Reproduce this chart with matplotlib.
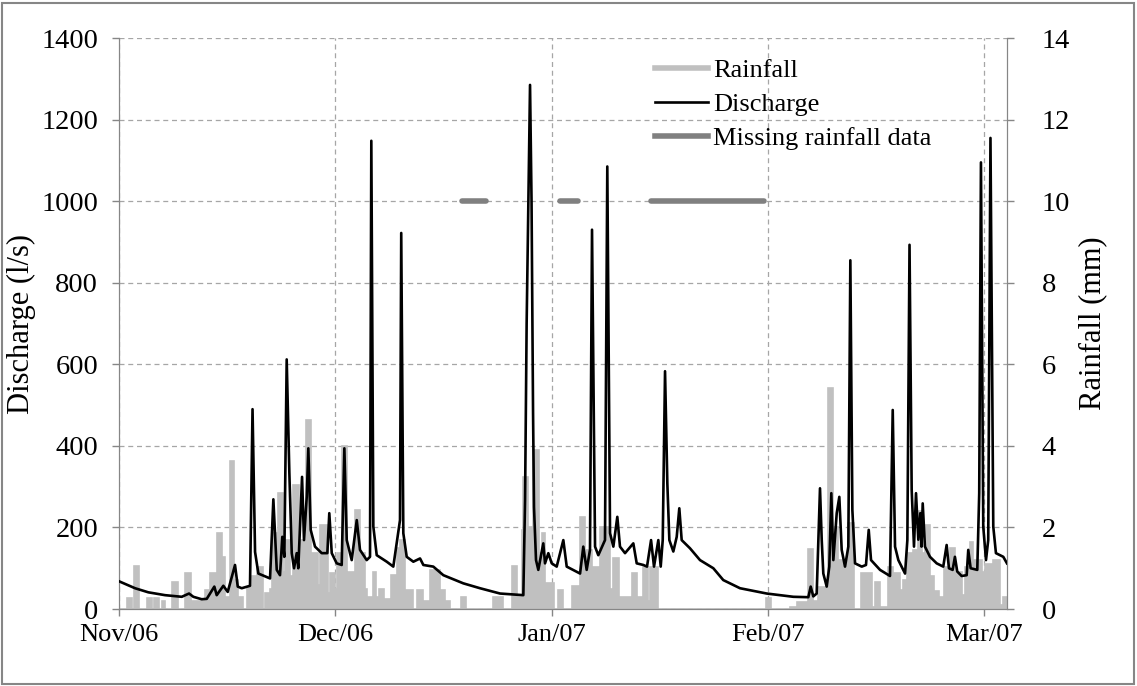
import matplotlib
matplotlib.use("Agg")
import matplotlib.pyplot as plt
from matplotlib.lines import Line2D
from matplotlib.patches import Rectangle

# ---------------- data ----------------
month_labels = ["Nov/06", "Dec/06", "Jan/07", "Feb/07", "Mar/07"]
month_pos = [0, 30, 60, 90, 120]  # days since 1 Nov 2006 (axis unit)

discharge_day = [0.0, 2.22, 4.06, 6.38, 8.70, 9.71, 10.31, 11.47, 12.17, 13.22, 13.55, 14.47,
                 15.08, 16.09, 16.47, 17.02, 18.17, 18.52, 18.87, 19.33, 20.26, 20.95, 21.41,
                 21.88, 22.33, 22.65, 22.93, 23.26, 23.63, 23.96, 24.28, 24.65, 24.87, 25.39,
                 25.66, 26.04, 26.26, 26.59, 27.19, 28.12, 28.90, 29.17, 29.51, 30.20, 30.89,
                 31.26, 31.59, 32.28, 32.98, 33.43, 34.36, 34.82, 35.00, 35.28, 35.75, 37.14,
                 38.05, 38.52, 38.98, 39.15, 39.44, 39.91, 40.83, 41.76, 42.22, 43.60, 44.99,
                 47.76, 50.08, 52.86, 56.09, 56.33, 56.55, 57.02, 57.23, 57.44, 57.57, 57.85,
                 58.17, 58.86, 59.10, 59.56, 60.03, 60.72, 61.64, 62.11, 63.50, 63.96, 64.41,
                 64.88, 65.34, 65.62, 66.04, 66.49, 67.42, 67.74, 68.12, 68.58, 69.13, 69.50,
                 70.20, 71.35, 71.82, 72.74, 73.25, 73.81, 74.22, 74.82, 75.15, 75.43, 75.75,
                 76.07, 76.35, 76.90, 77.37, 77.73, 78.06, 79.21, 80.60, 82.45, 83.83, 86.15,
                 89.86, 93.55, 95.63, 95.96, 96.32, 96.79, 97.25, 97.49, 97.71, 98.18, 98.54,
                 98.82, 99.10, 99.57, 99.93, 100.26, 100.72, 101.18, 101.46, 101.74, 102.11,
                 103.04, 103.63, 104.01, 104.33, 105.58, 106.96, 107.34, 107.66, 108.12,
                 109.05, 109.37, 109.67, 109.97, 110.29, 110.57, 110.89, 111.17, 111.33,
                 111.50, 111.81, 112.51, 113.44, 114.35, 114.82, 115.14, 115.65, 115.97,
                 116.29, 116.90, 117.60, 117.82, 118.15, 119.07, 119.34, 119.58, 119.90,
                 120.28, 120.59, 120.90, 121.29, 121.66, 122.68, 123.19]
discharge_ls = [68, 51, 41, 34, 30, 38, 30, 24, 25, 55, 34, 57,
                42, 108, 55, 51, 57, 490, 140, 87, 80, 75, 269,
                96, 83, 177, 128, 612, 333, 137, 100, 137, 100, 324,
                169, 275, 394, 194, 153, 137, 137, 235, 137, 112, 108,
                394, 169, 120, 218, 145, 120, 128, 1148, 202, 132, 116,
                104, 161, 218, 922, 186, 128, 116, 124, 108, 104, 83,
                63, 51, 38, 34, 267, 700, 1285, 1000, 480, 250, 120,
                96, 161, 112, 137, 112, 104, 169, 104, 91, 87, 153,
                96, 145, 930, 153, 132, 169, 1085, 186, 153, 226, 153,
                137, 161, 112, 108, 104, 169, 104, 169, 104, 169, 583,
                308, 169, 141, 177, 247, 169, 149, 120, 100, 71, 51,
                38, 30, 29, 55, 31, 38, 296, 169, 87, 55, 104,
                284, 120, 235, 275, 145, 104, 153, 855, 243, 112,
                104, 108, 194, 120, 96, 81, 488, 153, 120,
                87, 169, 893, 292, 153, 284, 170, 235, 153,
                259, 153, 128, 112, 104, 157, 100, 96, 128,
                92, 81, 83, 145, 100, 96, 284, 1095, 202,
                120, 169, 1155, 202, 137, 128, 112]

# rainfall as a step series: value rain_mm[i] holds from rain_edges[i] to rain_edges[i+1]
rain_edges = [0.0, 1.1, 1.8, 2.1, 2.8, 3.9, 4.6, 4.9, 5.6, 5.9, 6.4, 7.4, 8.2, 9.2, 10.0,
              10.1, 11.9, 12.6, 13.6, 14.3, 14.7, 15.4, 16.0, 16.55, 17.25, 17.7, 18.4,
              19.1, 20.0, 20.3, 20.9, 21.2, 21.9, 22.1, 22.8, 23.0, 23.7, 24.2, 24.9,
              25.9, 26.6, 27.6, 27.9, 29.0, 29.2, 30.0, 30.2, 30.9, 31.6, 31.8, 32.7,
              33.4, 34.1, 34.4, 35.3, 35.7, 36.0, 36.7, 37.6, 37.8, 38.5, 39.0, 39.7,
              40.8, 41.3, 42.2, 43.1, 44.5, 45.2, 45.9, 47.5, 48.2, 51.9, 53.3, 54.5,
              55.2, 55.9, 56.1, 56.8, 57.5, 58.2, 58.7, 59.1, 60.3, 60.9, 61.6, 62.8,
              64.0, 64.7, 65.6, 65.8, 66.7, 68.1, 68.6, 69.3, 71.1, 71.8, 72.7, 73.4,
              73.7, 74.8, 89.8, 90.4, 93.1, 94.0, 95.4, 95.6, 96.3, 97.0, 98.4, 99.1,
              99.8, 101.2, 101.9, 103.0, 104.4, 104.9, 105.6, 106.7, 107.4, 108.4,
              108.8, 109.3, 110.2, 110.9, 111.4, 111.8, 112.5, 113.0, 113.7, 114.4,
              115.3, 116.0, 116.9, 117.4, 118.1, 118.5, 119.7, 120.1, 121.3, 122.2,
              122.7, 123.2]
rain_mm = [0, 0.27, 0, 1.06, 0, 0.27, 0, 0.27, 0, 0.2, 0, 0.66, 0, 0.88, 0,
           0.2, 0.46, 0.88, 1.86, 1.28, 0.3, 3.64, 0.7, 0.3, 0, 0.55, 0.8,
           1.04, 0, 0.4, 0.5, 1.86, 0.6, 2.84, 0.9, 1.7, 0.8, 3.04, 1.7,
           4.63, 1.37, 0.6, 2.06, 0.4, 0.88, 0.5, 1.37, 4.0, 0.6, 0.9, 2.43,
           1.37, 0.5, 0.3, 0.9, 0.3, 0.5, 0.25, 0.2, 0.83, 1.5, 1.7, 0.46,
           0, 0.46, 0.2, 0.96, 0.46, 0.2, 0, 0.3, 0, 0.3, 0, 1.06,
           0.3, 1.94, 3.24, 2.0, 3.9, 1.37, 1.86, 0.64, 0, 0.47, 0, 0.56,
           2.26, 1.45, 0.5, 1.04, 2.0, 0.5, 1.25, 0.3, 0.88, 0.3, 1.04, 0.2,
           1.04, 0, 0.27, 0, 0.05, 0.18, 0, 1.47, 0.2, 0.55, 5.42, 2.0,
           1.2, 2.1, 0, 0.88, 0.05, 0.67, 0.05, 1.04, 0.88, 0.46,
           0.7, 1.37, 1.45, 2.4, 1.37, 2.06, 0.8, 0.44, 0.3, 1.04,
           1.5, 0.9, 0.35, 1.04, 1.65, 1.2, 0.9, 1.1, 1.2, 0.1,
           0.3]

missing_start = [47.6, 61.2, 73.8]
missing_end = [50.9, 63.7, 89.5]
missing_level_mm = 10

# ---------------- figure ----------------
plt.rcParams['font.family'] = ['Liberation Serif', 'DejaVu Serif']
FS_XTICK = 19
FS_YTICK = 20.5
FS_LAB = 22
FS_LEG = 19

fig = plt.figure(figsize=(11.37, 6.86), dpi=100)
ax = fig.add_axes([0.1047, 0.1122, 0.7810, 0.8324])  # rainfall axis (right ticks)
ax2 = ax.twinx()                                      # discharge axis (left ticks)

grey_rain = '#C0C0C0'
grey_miss = '#808080'
axis_grey = '#868686'

# rainfall
ax.stairs(rain_mm, rain_edges, fill=True, color=grey_rain, baseline=0, zorder=2)
ax.stairs(rain_mm, rain_edges, fill=False, color=grey_rain, baseline=0, lw=1.2, zorder=2)
# missing rainfall data
for s, e in zip(missing_start, missing_end):
    ax.plot([s, e], [missing_level_mm, missing_level_mm], color=grey_miss, lw=4,
            solid_capstyle='round', zorder=3)

# discharge
ax2.plot(discharge_day, discharge_ls, color='black', lw=1.9, zorder=3)

ax.set_xlim(0, 123.2)
ax.set_ylim(0, 14)
ax2.set_ylim(0, 1400)

ax.set_xticks(month_pos)
ax.set_xticklabels(month_labels)
ax.set_yticks(range(0, 15, 2))
ax2.set_yticks(range(0, 1401, 200))

ax.yaxis.tick_right()
ax.yaxis.set_label_position('right')
ax2.yaxis.tick_left()
ax2.yaxis.set_label_position('left')

ax.grid(True, color='#A6A6A6', linestyle=(0, (4, 3)), linewidth=0.9)
ax.set_axisbelow(True)

for a in (ax, ax2):
    for sp in a.spines.values():
        sp.set_color(axis_grey)
    a.spines['top'].set_visible(False)
    a.tick_params(colors=axis_grey, labelcolor='black', length=5, width=1)

ax.tick_params(axis='x', pad=6, labelsize=FS_XTICK)
ax.tick_params(axis='y', pad=20, labelsize=FS_YTICK)
ax2.tick_params(axis='y', pad=10, labelsize=FS_YTICK)

ax.set_ylabel('Rainfall (mm)', fontsize=FS_LAB, labelpad=6)
ax2.set_ylabel('Discharge (l/s)', fontsize=FS_LAB, labelpad=4)

# legend
handles = [Line2D([], [], color=grey_rain, lw=4),
           Line2D([], [], color='black', lw=1.9),
           Line2D([], [], color=grey_miss, lw=4)]
labels = ['Rainfall', 'Discharge', 'Missing rainfall data']
leg = ax2.legend(handles, labels, loc='upper left', bbox_to_anchor=(0.6036, 0.964),
                 frameon=False, fontsize=FS_LEG, handlelength=2.0, handletextpad=0.2,
                 labelspacing=0.4, borderpad=0, borderaxespad=0)

# chart border
fig.patches.append(Rectangle((0.002, 0.003), 0.995, 0.993, transform=fig.transFigure,
                             fill=False, edgecolor=axis_grey, linewidth=1.5))

fig.savefig('out.png', dpi=100)
